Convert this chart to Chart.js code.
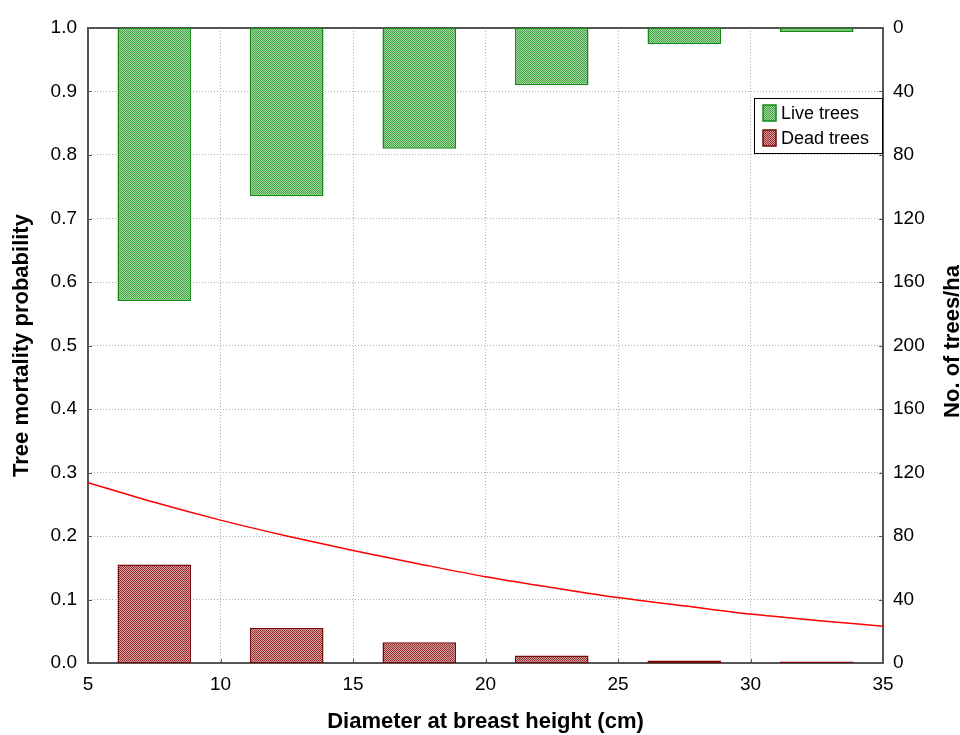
<!DOCTYPE html>
<html>
<head>
<meta charset="utf-8">
<script src="https://cdn.jsdelivr.net/npm/chart.js@4.4.1/dist/chart.umd.min.js"></script>
<style>
  html, body { margin: 0; padding: 0; background: #ffffff; }
  canvas { display: block; }
</style>
</head>
<body>
<canvas id="chart" width="960" height="735"></canvas>
<script>
// Diameter classes (bar centres, cm)
const diameterClasses = [7.5, 12.5, 17.5, 22.5, 27.5, 32.5];
// Stand density per class (trees/ha)
const liveTrees = [172, 106, 76, 36, 10, 2.5];
const deadTrees = [62, 22, 13, 4.7, 1.6, 1.0];
// Fitted mortality curve
const curveDbh = [5, 7.5, 10, 12.5, 15, 17.5, 20, 22.5, 25, 27.5, 30, 32.5, 35];
const mortalityProbability = [0.284, 0.253, 0.225, 0.200, 0.177, 0.156, 0.136, 0.119, 0.103, 0.090, 0.077, 0.067, 0.058];
// Right-hand axis labels, bottom to top (dead trees up from the bottom, live trees down from the top)
const treeTickLabels = ['0', '40', '80', '120', '160', '200', '160', '120', '80', '40', '0'];
const TREE_AXIS_SPAN = 400;

const FONT = "'Liberation Sans', Arial, Helvetica, sans-serif";
const AXIS_COLOR = '#555555';
const GRID_COLOR = '#b0b0b0';

const canvas = document.getElementById('chart');
const ctx = canvas.getContext('2d');

function checkerFill(dark, light) {
  const tile = document.createElement('canvas');
  tile.width = 2; tile.height = 2;
  const t = tile.getContext('2d');
  t.fillStyle = light; t.fillRect(0, 0, 2, 2);
  t.fillStyle = dark; t.fillRect(0, 0, 1, 1); t.fillRect(1, 1, 1, 1);
  return ctx.createPattern(tile, 'repeat');
}

const liveFill = checkerFill('#44a444', '#a4d6a4');
const deadFill = checkerFill('#962c2c', '#d8a2a2');

// Plot frame and inward tick marks, drawn beneath the bars
const frame = {
  id: 'frame',
  beforeDatasetsDraw(chart) {
    const { ctx, chartArea: a, scales } = chart;
    ctx.save();
    ctx.strokeStyle = AXIS_COLOR;
    ctx.lineWidth = 1;
    ctx.beginPath();
    scales.y.ticks.forEach(t => {
      const py = Math.round(scales.y.getPixelForValue(t.value)) + 0.5;
      ctx.moveTo(a.left, py); ctx.lineTo(a.left + 4, py);
    });
    scales.yTrees.ticks.forEach(t => {
      const py = Math.round(scales.yTrees.getPixelForValue(t.value)) + 0.5;
      ctx.moveTo(a.right, py); ctx.lineTo(a.right - 4, py);
    });
    scales.x.ticks.forEach(t => {
      const px = Math.round(scales.x.getPixelForValue(t.value)) + 0.5;
      ctx.moveTo(px, a.bottom); ctx.lineTo(px, a.bottom - 4);
    });
    ctx.stroke();
    ctx.lineWidth = 2;
    ctx.strokeRect(a.left, a.top, a.right - a.left, a.bottom - a.top);
    ctx.restore();
  }
};

// Legend box and right-hand axis title
const overlay = {
  id: 'overlay',
  afterDraw(chart) {
    const { ctx, chartArea: a } = chart;
    ctx.save();
    const boxW = 129, boxH = 56;
    const bx = a.right - boxW, by = a.top + 70;
    ctx.fillStyle = '#ffffff';
    ctx.fillRect(bx, by, boxW, boxH);
    ctx.strokeStyle = '#000000';
    ctx.lineWidth = 1;
    ctx.strokeRect(bx + 0.5, by + 0.5, boxW - 1, boxH - 1);
    const items = chart.data.datasets.filter(d => d.type === 'bar');
    ctx.font = '18px ' + FONT;
    ctx.textBaseline = 'middle';
    ctx.textAlign = 'left';
    items.forEach((d, i) => {
      const sy = by + 7 + i * 25;
      ctx.fillStyle = d.backgroundColor;
      ctx.fillRect(bx + 9, sy, 13, 16);
      ctx.strokeStyle = d.borderColor;
      ctx.lineWidth = 1.5;
      ctx.strokeRect(bx + 9, sy, 13, 16);
      ctx.fillStyle = '#000000';
      ctx.fillText(d.label, bx + 27, sy + 9);
    });

    // reads bottom to top, like the left-hand title
    ctx.translate(chart.width - 1, (a.top + a.bottom) / 2 - 4);
    ctx.rotate(-Math.PI / 2);
    ctx.font = 'bold 22px ' + FONT;
    ctx.textAlign = 'center';
    ctx.textBaseline = 'alphabetic';
    ctx.fillStyle = '#000000';
    ctx.fillText('No. of trees/ha', 0, 0);
    ctx.restore();
  }
};

new Chart(ctx, {
  data: {
    datasets: [
      {
        type: 'bar',
        label: 'Live trees',
        yAxisID: 'yTrees',
        data: liveTrees.map((n, i) => ({ x: diameterClasses[i], y: [TREE_AXIS_SPAN - n, TREE_AXIS_SPAN] })),
        backgroundColor: liveFill,
        borderColor: '#138a13',
        borderWidth: 1.5,
        borderSkipped: false,
        grouped: false,
        categoryPercentage: 1,
        barPercentage: 0.555,
        order: 2
      },
      {
        type: 'bar',
        label: 'Dead trees',
        yAxisID: 'yTrees',
        data: deadTrees.map((n, i) => ({ x: diameterClasses[i], y: n })),
        backgroundColor: deadFill,
        borderColor: '#760a0a',
        borderWidth: 1.5,
        borderSkipped: false,
        grouped: false,
        categoryPercentage: 1,
        barPercentage: 0.555,
        order: 2
      },
      {
        type: 'line',
        label: 'Mortality probability',
        yAxisID: 'y',
        data: curveDbh.map((d, i) => ({ x: d, y: mortalityProbability[i] })),
        borderColor: '#ff0000',
        borderWidth: 1.5,
        pointRadius: 0,
        cubicInterpolationMode: 'monotone',
        fill: false,
        order: 1
      }
    ]
  },
  options: {
    responsive: false,
    animation: false,
    layout: { padding: { top: 28, left: 0, right: 0, bottom: 0 } },
    plugins: { legend: { display: false }, tooltip: { enabled: false } },
    scales: {
      x: {
        type: 'linear',
        min: 5, max: 35,
        offset: false,
        ticks: { stepSize: 5, color: '#000', padding: 10, font: { family: FONT, size: 19 } },
        grid: { color: GRID_COLOR, drawTicks: false, offset: false },
        border: { display: false, dash: [1, 2] },
        title: { display: true, text: 'Diameter at breast height (cm)', color: '#000',
                 font: { family: FONT, size: 22, weight: 'bold' }, padding: { top: 0, bottom: 0 } },
        afterFit(scale) { scale.height = 72; }
      },
      y: {
        position: 'left',
        min: 0, max: 1,
        ticks: { stepSize: 0.1, color: '#000', padding: 11, font: { family: FONT, size: 19 },
                 callback: v => v.toFixed(1) },
        grid: { color: GRID_COLOR, drawTicks: false },
        border: { display: false, dash: [1, 2] },
        title: { display: true, text: 'Tree mortality probability', color: '#000',
                 font: { family: FONT, size: 22, weight: 'bold' }, padding: { top: 9, bottom: 0 } },
        afterFit(scale) { scale.width = 88; }
      },
      yTrees: {
        position: 'right',
        min: 0, max: TREE_AXIS_SPAN,
        ticks: { stepSize: 40, color: '#000', padding: 10, font: { family: FONT, size: 19 },
                 callback: (v, i) => treeTickLabels[i] },
        grid: { display: false, drawTicks: false },
        border: { display: false },
        afterFit(scale) { scale.width = 77; }
      }
    }
  },
  plugins: [frame, overlay]
});
</script>
</body>
</html>
